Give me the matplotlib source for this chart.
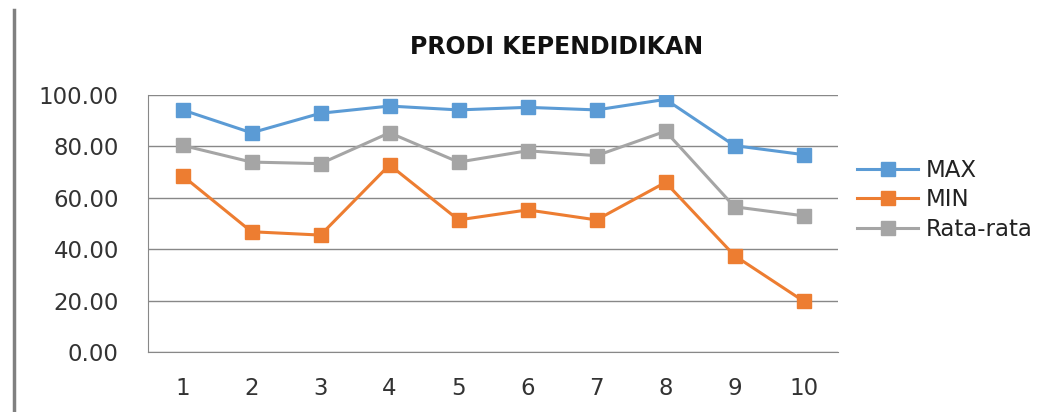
import matplotlib.pyplot as plt
from matplotlib.lines import Line2D

categories = [1, 2, 3, 4, 5, 6, 7, 8, 9, 10]
max_vals = [94.2, 85.3, 92.9, 95.7, 94.2, 95.2, 94.2, 98.3, 80.3, 76.8]
min_vals = [68.6, 46.8, 45.5, 72.8, 51.4, 55.3, 51.4, 66.0, 37.5, 19.8]
avg_vals = [80.4, 73.9, 73.3, 85.3, 73.9, 78.3, 76.4, 85.9, 56.5, 53.0]
series_names = ['MAX', 'MIN', 'Rata-rata']

plt.rcParams['font.family'] = ['DejaVu Sans']

fig = plt.figure(figsize=(10.52, 4.12), dpi=100)
ax = fig.add_axes([0.1407, 0.1456, 0.6559, 0.6238])

colors = ['#5B9BD5', '#ED7D31', '#A5A5A5']
for vals, c, name in zip([max_vals, min_vals, avg_vals], colors, series_names):
    ax.plot(categories, vals, color=c, lw=2.2, marker='s', markersize=10,
            label=name, zorder=3)

ax.set_xlim(0.5, 10.5)
ax.set_ylim(0, 100)
ax.set_yticks(range(0, 101, 20))
ax.set_yticklabels([f'{v:.2f}' for v in range(0, 101, 20)])
ax.set_xticks(categories)
ax.yaxis.grid(True, color='#888888', lw=1)
ax.set_axisbelow(True)
for s in ['top', 'right']:
    ax.spines[s].set_visible(False)
for s in ['left', 'bottom']:
    ax.spines[s].set_color('#888888')
ax.tick_params(length=0, labelsize=16.5, colors='#333333')
ax.tick_params(axis='y', pad=21)
ax.tick_params(axis='x', pad=18)

fig.text(0.529, 0.886, 'PRODI KEPENDIDIKAN', ha='center', va='center',
         fontsize=17, fontweight='semibold', color='#111111')

ax.legend(loc='center left', bbox_to_anchor=(0.8146, 0.5146),
          bbox_transform=fig.transFigure, frameon=False, borderpad=0,
          borderaxespad=0, fontsize=16.5, handlelength=2.67,
          handletextpad=0.34, labelspacing=0.3, labelcolor='#222222')

fig.add_artist(Line2D([0.0133, 0.0133], [0.0, 0.975], color='#808080', lw=2.5))

fig.savefig('out.png', dpi=100)
